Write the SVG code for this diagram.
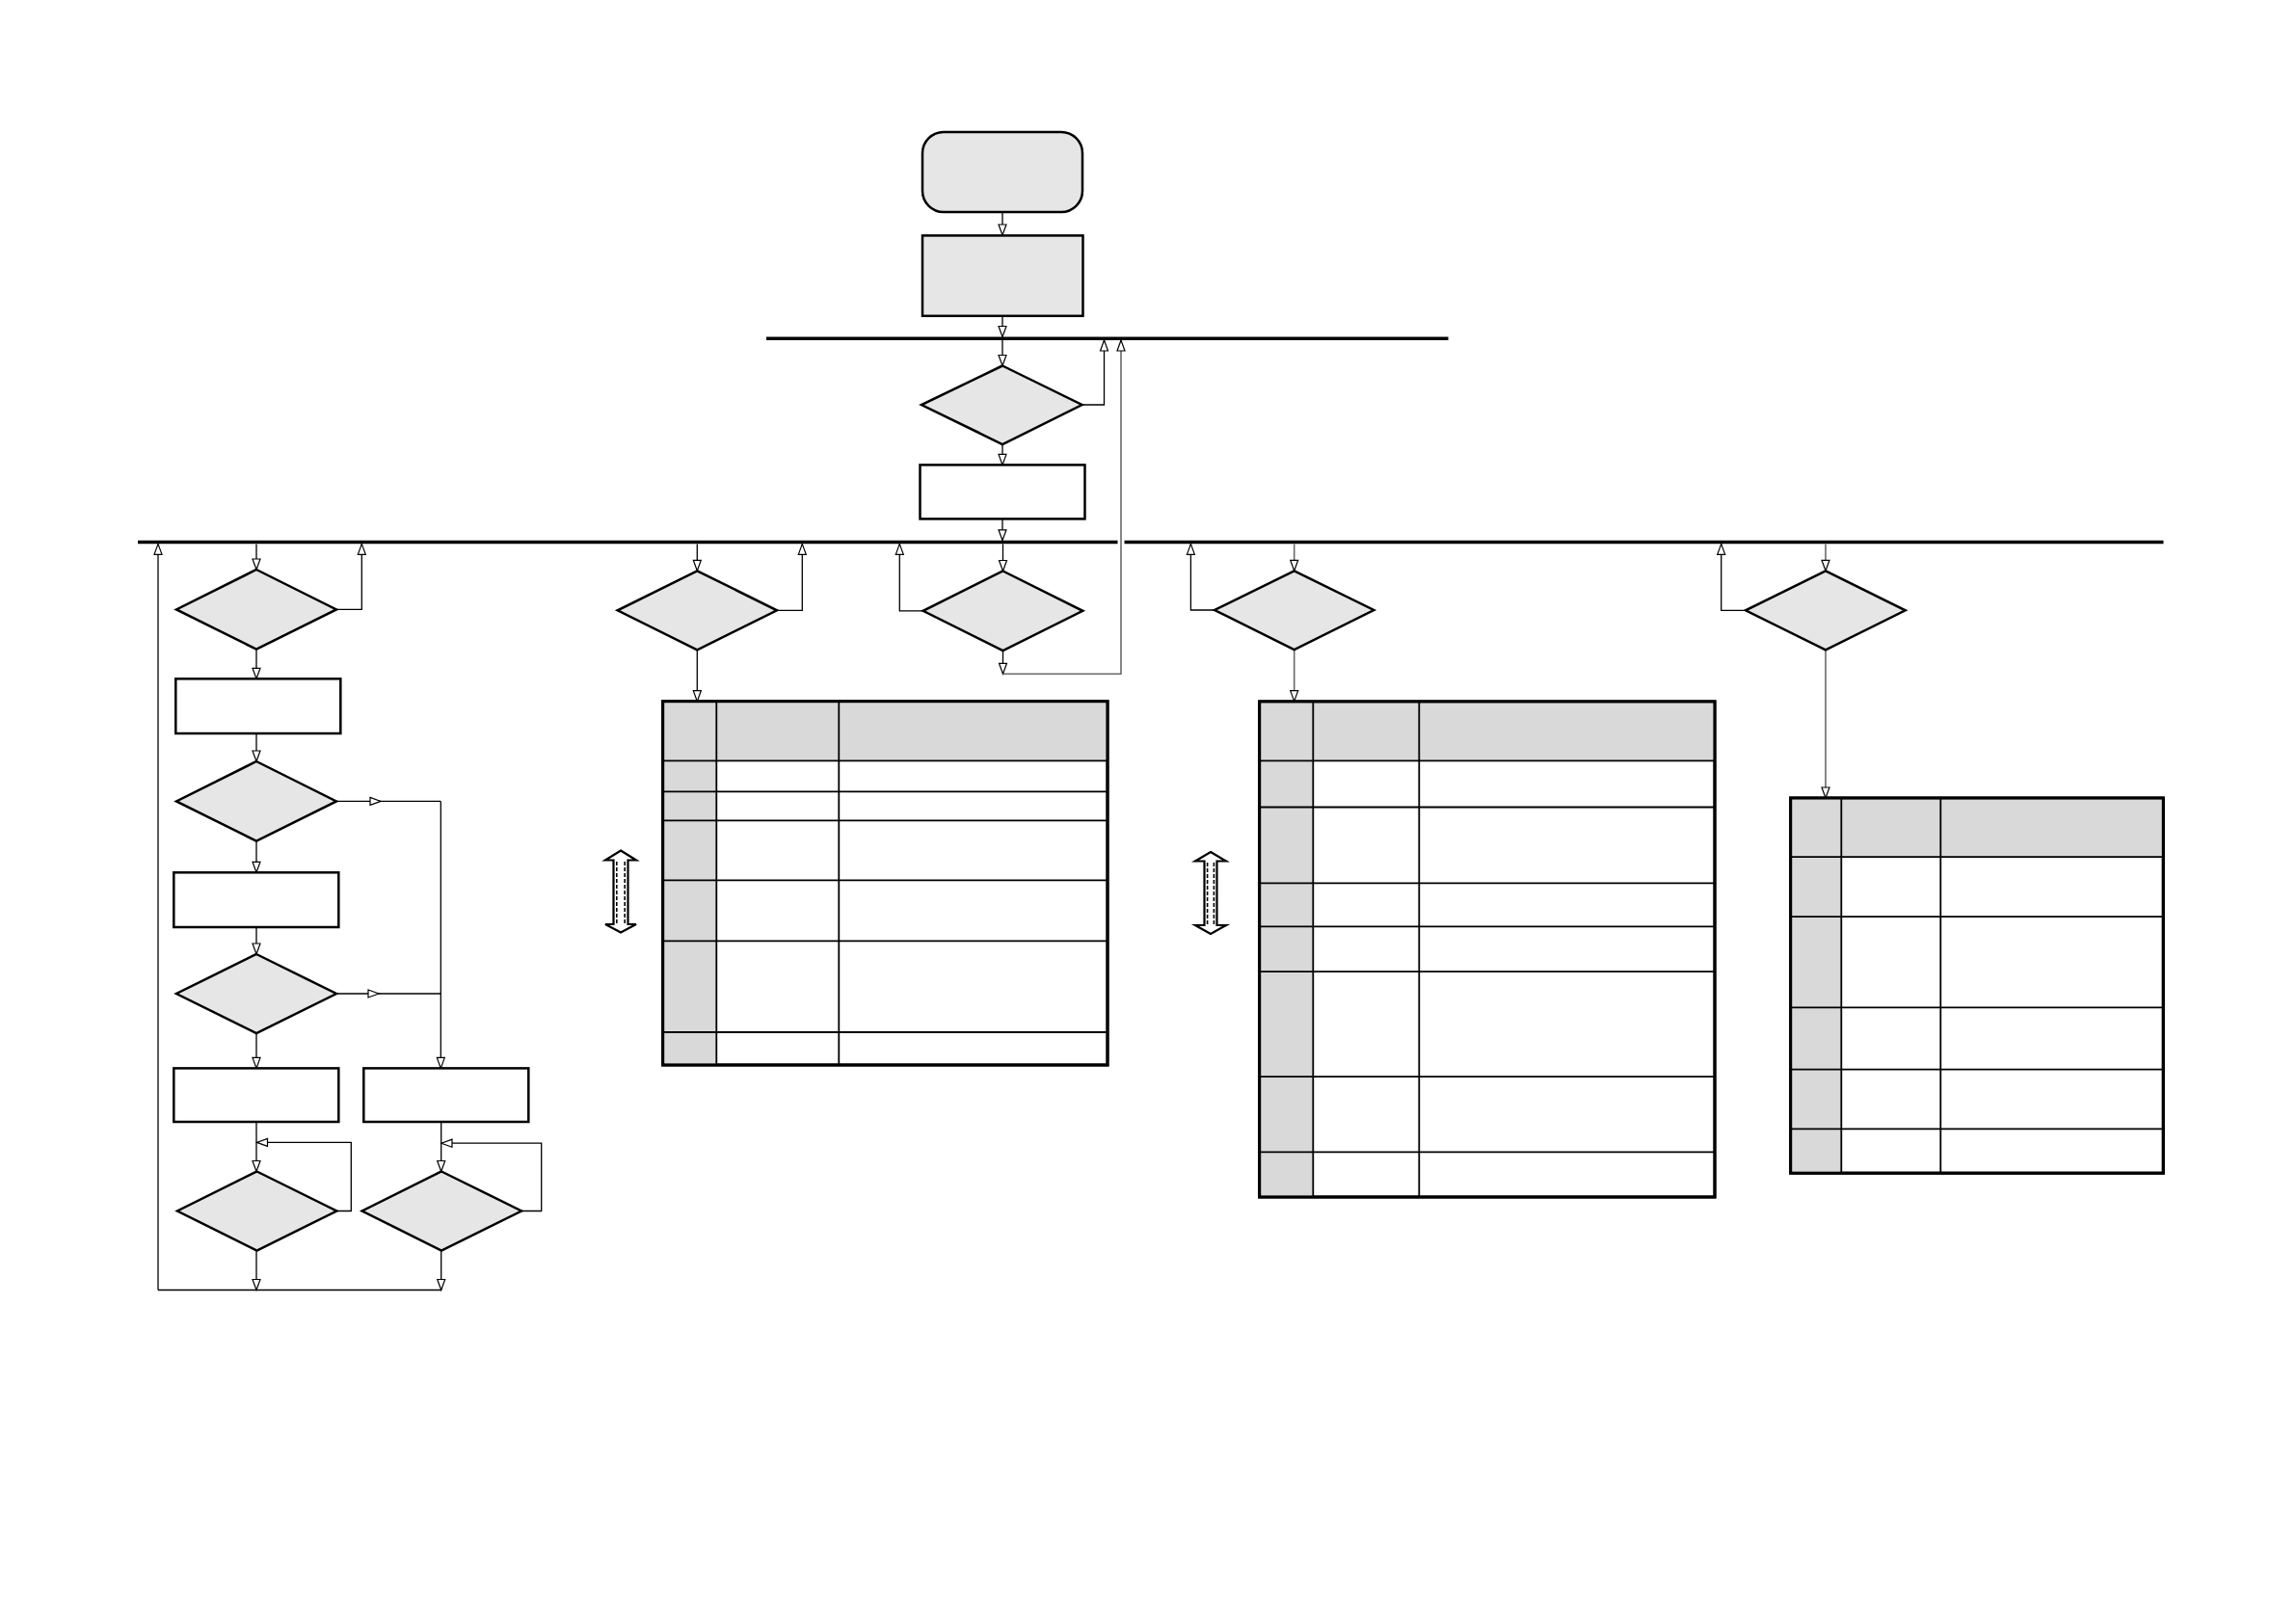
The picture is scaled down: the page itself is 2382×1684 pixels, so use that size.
<svg xmlns="http://www.w3.org/2000/svg" width="2382" height="1684" viewBox="0 0 2382 1684">
<style>
.n{fill:#e6e6e6;stroke:#000;stroke-width:2.5}
.w{fill:#fff;stroke:#000;stroke-width:2.5}
.bus{stroke:#000;stroke-width:3.5;fill:none}
.c{fill:none;stroke:#000;stroke-width:1.3;marker-end:url(#ah)}
.l{fill:none;stroke:#000;stroke-width:1.3}
.g{fill:none;stroke:#6a6a6a;stroke-width:1.6;marker-end:url(#ah)}
.gl{fill:none;stroke:#6a6a6a;stroke-width:1.6}
.tb{fill:#fff;stroke:#000;stroke-width:3}
.hd{fill:#d9d9d9;stroke:none}
.gr{stroke:#000;stroke-width:1.8;fill:none}
.da{fill:#fff;stroke:#000;stroke-width:2.2}
.dd{stroke:#000;stroke-width:1.6;stroke-dasharray:4 2;fill:none}
</style>
<defs>
<marker id="ah" markerUnits="userSpaceOnUse" markerWidth="14" markerHeight="10" refX="11" refY="4" orient="auto" overflow="visible">
<path d="M0,0 L11,4 L0,8 z" fill="#fff" stroke="#000" stroke-width="1.2"/>
</marker>
</defs>
<rect width="2382" height="1684" fill="#fff"/>

<g id="buses">
<line class="bus" x1="795" y1="351.3" x2="1502.5" y2="351.3"/>
<line class="bus" x1="143" y1="562.6" x2="1159.5" y2="562.6"/>
<line class="bus" x1="1166.5" y1="562.6" x2="2244.5" y2="562.6"/>
</g>

<g id="connectors">
<path class="c" d="M1040,220 V244"/>
<path class="c" d="M1040,328 V349.5"/>
<path class="c" d="M1040,353 V379.5"/>
<path class="c" d="M1122.5,420 H1145.5 V353"/>
<path class="c" d="M1040,461 V482.4"/>
<path class="c" d="M1040,538.3 V560.8"/>
<path class="c" d="M1040.5,564.4 V592.5"/>
<path class="c" d="M1040.5,675 V699.3"/>
<path class="g" d="M1040.5,699.3 H1163 V353"/>
<path class="c" d="M957.7,633.8 H933.3 V564.4"/>
<path class="c" d="M723.3,564.4 V592.3"/>
<path class="c" d="M806,633.3 H832.3 V564.4"/>
<path class="c" d="M723.3,674.3 V727.7"/>
<path class="c" d="M266,564.4 V591"/>
<path class="c" d="M349,632.4 H375.3 V564.4"/>
<path class="c" d="M266,673.7 V704.3"/>
<path class="c" d="M266,761 V790"/>
<path class="c" d="M349,831.4 H395"/>
<path class="l" d="M395,831.4 H457.3"/>
<path class="c" d="M457.3,831.4 V1108.4"/>
<path class="c" d="M266,872.7 V905.3"/>
<path class="c" d="M266,962 V990"/>
<path class="c" d="M349,1031 H393"/>
<path class="l" d="M393,1031 H457.3"/>
<path class="c" d="M266,1072 V1108.4"/>
<path class="c" d="M266,1164 V1215.5"/>
<path class="c" d="M349.3,1256.5 H364.3 V1185.4 H266.5"/>
<path class="c" d="M457.7,1164 V1215.5"/>
<path class="c" d="M541,1256.5 H561.7 V1186.2 H458"/>
<path class="c" d="M266,1297.6 V1338.5"/>
<path class="c" d="M457.7,1297.6 V1338.5"/>
<path class="l" d="M164,1338.5 H457.7"/>
<path class="c" d="M164,1338.5 V564.4"/>
<path class="g" d="M1342.7,564.4 V592.3"/>
<path class="c" d="M1260,633 H1235.4 V564.4"/>
<path class="g" d="M1342.7,674 V727.6"/>
<path class="g" d="M1894,564.4 V592.3"/>
<path class="c" d="M1811,633.3 H1785.7 V564.4"/>
<path class="g" d="M1894,674.3 V828"/>
</g>

<g id="start"><rect class="n" x="957" y="137" width="166" height="83" rx="22"/></g>
<g id="init"><rect class="n" x="957" y="244.4" width="166.5" height="83.4"/></g>
<g id="dec-top"><polygon class="n" points="1040,379.5 1122.5,420 1040,461 956,420"/></g>
<g id="proc-top"><rect class="w" x="954.5" y="482.4" width="171" height="56"/></g>

<g id="dec-c1a"><polygon class="n" points="266,591 349,632.4 266,673.7 183,632.4"/></g>
<g id="proc-c1a"><rect class="w" x="182.3" y="704.3" width="171" height="56.7"/></g>
<g id="dec-c1b"><polygon class="n" points="266,790 349,831.4 266,872.7 183,831.4"/></g>
<g id="proc-c1b"><rect class="w" x="180.3" y="905.3" width="171" height="56.7"/></g>
<g id="dec-c1c"><polygon class="n" points="266,990 349,1031 266,1072 183,1031"/></g>
<g id="proc-c1c"><rect class="w" x="180.3" y="1108.4" width="171" height="55.6"/></g>
<g id="proc-c1d"><rect class="w" x="377.3" y="1108.4" width="171" height="55.6"/></g>
<g id="dec-c1e"><polygon class="n" points="266.5,1215.5 349.3,1256.5 266.5,1297.6 184,1256.5"/></g>
<g id="dec-c1f"><polygon class="n" points="458,1215.5 541,1256.5 458,1297.6 375.7,1256.5"/></g>

<g id="dec-c2"><polygon class="n" points="723.3,592.3 806,633.3 723.3,674.3 640.7,633.3"/></g>
<g id="dec-c3"><polygon class="n" points="1040.5,592.5 1123.3,633.8 1040.5,675 957.7,633.8"/></g>
<g id="dec-c4"><polygon class="n" points="1342.7,592.3 1425.3,633 1342.7,674 1260,633"/></g>
<g id="dec-c5"><polygon class="n" points="1894,592.3 1976.7,633.3 1894,674.3 1811,633.3"/></g>

<g id="table1">
<rect class="tb" x="687.7" y="727.7" width="461.3" height="377.3"/>
<rect class="hd" x="689.2" y="729.2" width="458.3" height="60.1"/>
<rect class="hd" x="689.2" y="729.2" width="54.1" height="374.3"/>
<path class="gr" d="M743.3,727.7 V1105 M870.3,727.7 V1105 M687.7,789.3 H1149 M687.7,821.3 H1149 M687.7,851.3 H1149 M687.7,913.3 H1149 M687.7,976.3 H1149 M687.7,1071 H1149"/>
<rect x="687.7" y="727.7" width="461.3" height="377.3" fill="none" stroke="#000" stroke-width="3"/>
</g>

<g id="table2">
<rect class="tb" x="1306.7" y="727.9" width="472.3" height="514.1"/>
<rect class="hd" x="1308.2" y="729.4" width="469.3" height="59.9"/>
<rect class="hd" x="1308.2" y="729.4" width="54.1" height="511.1"/>
<path class="gr" d="M1362.3,727.9 V1242 M1472.3,727.9 V1242 M1306.7,789.3 H1779 M1306.7,837.5 H1779 M1306.7,916.4 H1779 M1306.7,961.4 H1779 M1306.7,1008.2 H1779 M1306.7,1117.1 H1779 M1306.7,1195.4 H1779"/>
<rect x="1306.7" y="727.9" width="472.3" height="514.1" fill="none" stroke="#000" stroke-width="3"/>
</g>

<g id="table3">
<rect class="tb" x="1857.7" y="828" width="386.6" height="389.2"/>
<rect class="hd" x="1859.2" y="829.5" width="383.6" height="59.6"/>
<rect class="hd" x="1859.2" y="829.5" width="51.1" height="386.2"/>
<path class="gr" d="M1910.3,828 V1217.2 M2013.3,828 V1217.2 M1857.7,889.1 H2244.3 M1857.7,951.2 H2244.3 M1857.7,1045.4 H2244.3 M1857.7,1109.6 H2244.3 M1857.7,1171.3 H2244.3"/>
<rect x="1857.7" y="828" width="386.6" height="389.2" fill="none" stroke="#000" stroke-width="3"/>
</g>

<g id="dbl-arrow-1">
<polygon class="da" points="644,882.5 660,892.5 651.5,892.5 651.5,959 660,959 644,967.5 628,959 636.5,959 636.5,892.5 628,892.5"/>
<path class="dd" d="M639.8,894 V958 M648.2,894 V958"/>
</g>
<g id="dbl-arrow-2">
<polygon class="da" points="1256,884 1272,893.5 1262.5,893.5 1262.5,960 1272,960 1256,969 1240,960 1249.5,960 1249.5,893.5 1240,893.5"/>
<path class="dd" d="M1252.6,895 V959 M1259.4,895 V959"/>
</g>
</svg>
